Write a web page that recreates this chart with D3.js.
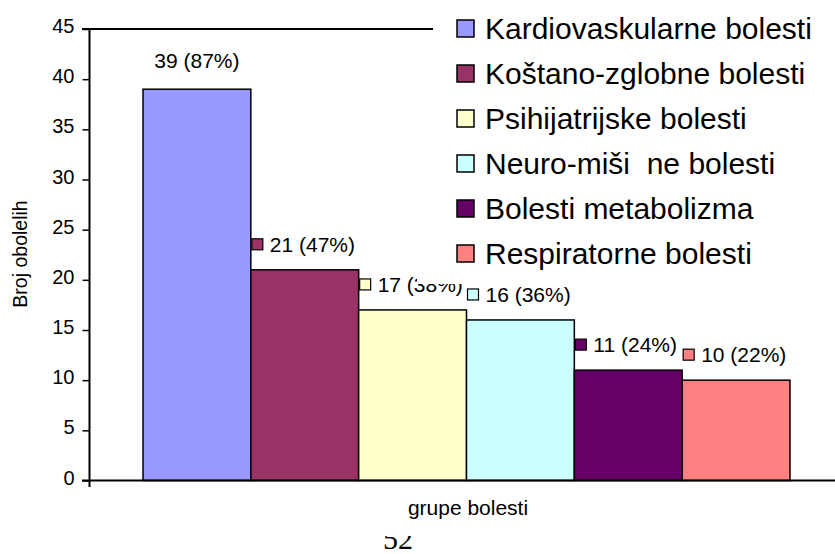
<!DOCTYPE html>
<html>
<head>
<meta charset="utf-8">
<title>Broj obolelih po grupama bolesti</title>
<script src="https://d3js.org/d3.v7.min.js"></script>
<style>
  body { margin: 0; background: #fff; }
  svg { font-family: "Liberation Sans", Arial, sans-serif; }
  .axis text { font-size: 20px; fill: #000; }
  .axis line { stroke: #000; stroke-width: 1.5px; }
  .axis path { display: none; }
</style>
</head>
<body>
<script>
// podaci
var categories = ["Kardiovaskularne bolesti", "Koštano-zglobne bolesti", "Psihijatrijske bolesti",
                  "Neuro-miši  ne bolesti", "Bolesti metabolizma", "Respiratorne bolesti"];
var values = [39, 21, 17, 16, 11, 10];
var percents = [87, 47, 38, 36, 24, 22];
var colors = ["#9999FF", "#993366", "#FFFFCC", "#CCFFFF", "#660066", "#FF8080"];
var yTicks = [0, 5, 10, 15, 20, 25, 30, 35, 40, 45];

var width = 835, height = 554;

var svg = d3.select("body").append("svg")
    .attr("width", width)
    .attr("height", height);

var y = d3.scaleLinear().domain([0, 45]).range([480.5, 29]);
var x = d3.scaleBand().domain(categories).range([143, 790]).padding(0);

// stranica "52" (odsjecena odozgo)
svg.append("clipPath").attr("id", "pg")
  .append("rect").attr("x", 0).attr("y", 536).attr("width", width).attr("height", 30);
svg.append("text")
    .attr("clip-path", "url(#pg)")
    .attr("x", 398).attr("y", 549)
    .attr("text-anchor", "middle")
    .style("font-family", "'Liberation Serif', 'Times New Roman', serif")
    .style("font-size", "30px")
    .text("52");

// stupci
svg.selectAll(".bar")
    .data(categories)
  .enter().append("rect")
    .attr("class", "bar")
    .attr("x", function(d) { return x(d); })
    .attr("y", function(d, i) { return y(values[i]); })
    .attr("width", x.bandwidth())
    .attr("height", function(d, i) { return y(0) - y(values[i]); })
    .attr("fill", function(d, i) { return colors[i]; })
    .attr("stroke", "#000")
    .attr("stroke-width", 1.5);

// oznake podataka
var lab = svg.selectAll(".lab")
    .data(categories)
  .enter().append("g")
    .attr("class", "lab");

lab.filter(function(d, i) { return i > 0; })
  .append("rect")
    .attr("x", function(d) { return x(d) + 1; })
    .attr("y", function(d) { var i = categories.indexOf(d); return y(values[i]) - 31; })
    .attr("width", 11).attr("height", 11)
    .attr("fill", function(d) { return colors[categories.indexOf(d)]; })
    .attr("stroke", "#000")
    .attr("stroke-width", 1.2);

lab.append("text")
    .attr("x", function(d, i) { return i == 0 ? x(d) + x.bandwidth() / 2 : x(d) + 19; })
    .attr("y", function(d, i) { return i == 0 ? y(values[i]) - 21 : y(values[i]) - 18; })
    .attr("text-anchor", function(d, i) { return i == 0 ? "middle" : "start"; })
    .style("font-size", "21px")
    .text(function(d, i) { return values[i] + " (" + percents[i] + "%)"; });

// os y
var yAxis = d3.axisLeft(y).tickValues(yTicks).tickSize(7).tickPadding(8);
svg.append("g")
    .attr("class", "axis")
    .attr("transform", "translate(89.5,0)")
    .call(yAxis)
    .selectAll("text").attr("dy", "0.18em");

// legenda (bijela pozadina pokriva dio oznake)
svg.append("rect")
    .attr("x", 417).attr("y", 0)
    .attr("width", width - 417).attr("height", 284)
    .attr("fill", "#fff");

// okvir i osi
svg.append("line")
    .attr("x1", 82).attr("x2", 433).attr("y1", 29).attr("y2", 29)
    .attr("stroke", "#000").attr("stroke-width", 2);
svg.append("line")
    .attr("x1", 89.5).attr("x2", 89.5).attr("y1", 28).attr("y2", 487)
    .attr("stroke", "#000").attr("stroke-width", 2);
svg.append("line")
    .attr("x1", 82).attr("x2", width).attr("y1", y(0)).attr("y2", y(0))
    .attr("stroke", "#000").attr("stroke-width", 2);

var leg = svg.selectAll(".leg")
    .data(categories)
  .enter().append("g")
    .attr("class", "leg")
    .attr("transform", function(d, i) { return "translate(457," + (28 + i * 45) + ")"; });

leg.append("rect")
    .attr("x", 0).attr("y", -8)
    .attr("width", 17).attr("height", 17)
    .attr("fill", function(d, i) { return colors[i]; })
    .attr("stroke", "#000")
    .attr("stroke-width", 1.5);

leg.append("text")
    .attr("x", 28).attr("y", 11)
    .style("font-size", "30px")
    .style("white-space", "pre")
    .text(function(d) { return d; });

// naslovi osi
svg.append("text")
    .attr("transform", "translate(27,254) rotate(-90)")
    .attr("text-anchor", "middle")
    .style("font-size", "19.5px")
    .text("Broj obolelih");

svg.append("text")
    .attr("x", 468).attr("y", 515)
    .attr("text-anchor", "middle")
    .style("font-size", "21px")
    .text("grupe bolesti");
</script>
</body>
</html>
